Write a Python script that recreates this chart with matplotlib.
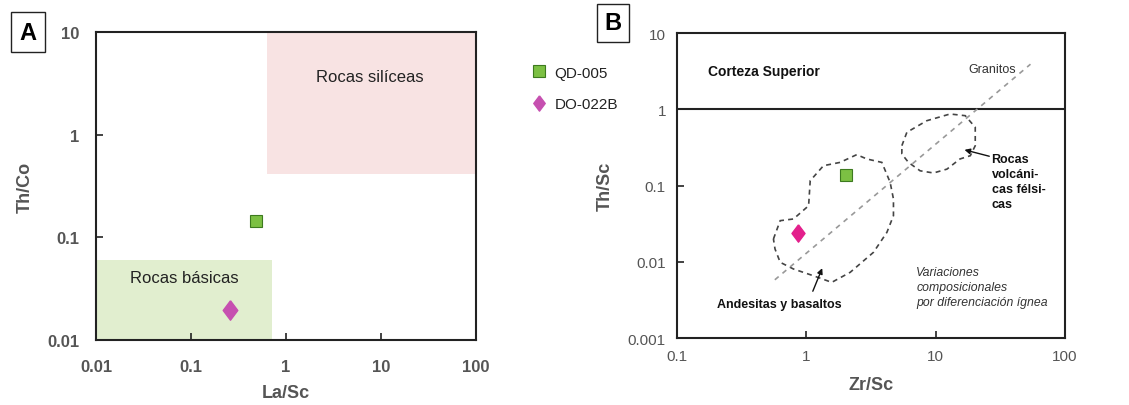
import matplotlib.pyplot as plt
from matplotlib.patches import Rectangle, Polygon

plt.rcParams['font.family'] = ['Liberation Sans', 'DejaVu Sans']

# --- Panel A data: Th/Co vs La/Sc ---
samples = ['QD-005', 'DO-022B']
a_lasc = [0.48, 0.26]
a_thco = [0.145, 0.0195]
# field boxes (x0, x1, y0, y1)
silicic_box = [0.63, 100, 0.41, 10]
basic_box = [0.01, 0.72, 0.01, 0.06]

# --- Panel B data: Th/Sc vs Zr/Sc ---
b_zrsc = [2.03, 0.86]
b_thsc = [0.138, 0.024]
granite_x = [0.57, 54]
granite_y = [0.0058, 3.9]
andesite_env_x = [0.556, 0.627, 0.794, 1.04, 1.07, 1.355, 1.82, 2.45, 2.93, 3.83,
                  4.44, 4.71, 4.71, 4.19, 3.30, 2.18, 1.57, 1.13, 0.794, 0.627, 0.572]
andesite_env_y = [0.0199, 0.0346, 0.0364, 0.0543, 0.1156, 0.182, 0.201, 0.254, 0.223, 0.201,
                  0.110, 0.0665, 0.0402, 0.0243, 0.0133, 0.00727, 0.00537, 0.00656, 0.00804,
                  0.00984, 0.0147]
felsic_env_x = [5.47, 5.98, 8.53, 12.9, 16.9, 20.2, 20.2, 18.5, 15.4, 12.2, 9.6, 7.57, 6.15, 5.47]
felsic_env_y = [0.333, 0.499, 0.708, 0.867, 0.824, 0.58, 0.333, 0.246, 0.223, 0.164, 0.146,
                0.156, 0.201, 0.259]

green = '#7cc043'
green_edge = '#3d7a1f'
purple = '#c650b0'
magenta = '#e3208c'
spine_c = '#222222'
# diamond a bit wider than matplotlib's thin diamond
diamond = [(0, 1), (0.75, 0), (0, -1), (-0.75, 0), (0, 1)]

fig = plt.figure(figsize=(11.29, 4.06), dpi=100)

# ---------------- Panel A ----------------
axA = fig.add_axes([0.0850, 0.1601, 0.3366, 0.7586])
axA.set_xscale('log')
axA.set_yscale('log')
axA.set_xlim(0.01, 100)
axA.set_ylim(0.01, 10)

axA.add_patch(Rectangle((silicic_box[0], silicic_box[2]), silicic_box[1] - silicic_box[0],
                        silicic_box[3] - silicic_box[2], facecolor='#f8e3e3', edgecolor='none', zorder=0))
axA.add_patch(Rectangle((basic_box[0], basic_box[2]), basic_box[1] - basic_box[0],
                        basic_box[3] - basic_box[2], facecolor='#e1eecf', edgecolor='none', zorder=0))
axA.text(7.6, 3.7, 'Rocas silíceas', ha='center', va='center', fontsize=12, color='#222')
axA.text(0.085, 0.041, 'Rocas básicas', ha='center', va='center', fontsize=12, color='#222')

axA.plot(a_lasc[0], a_thco[0], 's', ms=8, mfc=green, mec=green_edge, mew=0.8, ls='none', label=samples[0])
axA.plot(a_lasc[1], a_thco[1], marker=diamond, ms=14, mfc=purple, mec=purple, ls='none', label=samples[1])

axA.set_xticks([0.01, 0.1, 1, 10, 100])
axA.set_xticklabels(['0.01', '0.1', '1', '10', '100'])
axA.set_yticks([0.01, 0.1, 1, 10])
axA.set_yticklabels(['0.01', '0.1', '1', '10'])
axA.minorticks_off()
axA.tick_params(direction='in', length=5, width=1.2, color=spine_c, labelsize=12,
                labelcolor='#555')
axA.tick_params(axis='x', pad=14)
axA.tick_params(axis='y', pad=12)
for lab in axA.get_xticklabels() + axA.get_yticklabels():
    lab.set_fontweight('bold')
axA.set_xlabel('La/Sc', fontsize=13, fontweight='bold', color='#555', labelpad=7)
axA.set_ylabel('Th/Co', fontsize=13, fontweight='bold', color='#555', labelpad=10)
for s in axA.spines.values():
    s.set_color(spine_c)
    s.set_linewidth(1.5)

leg = axA.legend(loc='upper left', bbox_to_anchor=(1.11, 0.935), frameon=False, fontsize=11,
                 handletextpad=0.5, labelspacing=1.15, handlelength=1.0)
leg.legend_handles[0].set_markersize(8.5)
leg.legend_handles[1].set_markersize(11)
for t in leg.get_texts():
    t.set_color('#222')

fig.text(28 / 1129, 1 - 33 / 406, 'A', ha='center', va='center', fontsize=17, fontweight='bold',
         bbox=dict(boxstyle='square,pad=0.38', fc='white', ec='#222', lw=1.0))

# ---------------- Panel B ----------------
axB = fig.add_axes([0.5997, 0.1650, 0.3437, 0.7512])
axB.set_xscale('log')
axB.set_yscale('log')
axB.set_xlim(0.1, 100)
axB.set_ylim(0.001, 10)

axB.axhline(1, color=spine_c, lw=1.5)
axB.plot(granite_x, granite_y, ls=(0, (3, 3)), color='#999', lw=1.2)
axB.add_patch(Polygon(list(zip(andesite_env_x, andesite_env_y)), closed=True, fill=False,
                      ls=(0, (3, 2.5)), ec='#444', lw=1.2))
axB.add_patch(Polygon(list(zip(felsic_env_x, felsic_env_y)), closed=True, fill=False,
                      ls=(0, (3, 2.5)), ec='#444', lw=1.2))

axB.plot(b_zrsc[0], b_thsc[0], 's', ms=9, mfc=green, mec=green_edge, mew=0.8, ls='none')
axB.plot(b_zrsc[1], b_thsc[1], marker=diamond, ms=12.5, mfc=magenta, mec=magenta, ls='none')

axB.text(0.174, 3.2, 'Corteza Superior', ha='left', va='center', fontsize=10, fontweight='bold', color='#111')
axB.text(17.8, 3.4, 'Granitos', ha='left', va='center', fontsize=9, color='#333')
axB.text(0.204, 0.0028, 'Andesitas y basaltos', ha='left', va='center', fontsize=9,
         fontweight='bold', color='#111')
axB.annotate('', xy=(1.35, 0.0089), xytext=(1.10, 0.0038),
             arrowprops=dict(arrowstyle='-|>', color='#111', lw=1.0, mutation_scale=8))
axB.text(27, 0.27, 'Rocas\nvolcáni-\ncas félsi-\ncas', ha='left', va='top', fontsize=9,
         fontweight='bold', color='#111', linespacing=1.35)
axB.annotate('', xy=(15.9, 0.30), xytext=(27.2, 0.237),
             arrowprops=dict(arrowstyle='-|>', color='#111', lw=1.0, mutation_scale=8))
axB.text(7.05, 0.0088, 'Variaciones\ncomposicionales\npor diferenciación ígnea', ha='left', va='top',
         fontsize=8.8, style='italic', color='#333', linespacing=1.35)

axB.set_xticks([0.1, 1, 10, 100])
axB.set_xticklabels(['0.1', '1', '10', '100'])
axB.set_yticks([0.001, 0.01, 0.1, 1, 10])
axB.set_yticklabels(['0.001', '0.01', '0.1', '1', '10'])
axB.minorticks_off()
axB.tick_params(direction='in', length=5, width=1.2, color=spine_c, labelsize=11,
                labelcolor='#555', pad=8)
axB.set_xlabel('Zr/Sc', fontsize=13, fontweight='bold', color='#555', labelpad=9)
axB.set_ylabel('Th/Sc', fontsize=13, fontweight='bold', color='#555', labelpad=10)
for s in axB.spines.values():
    s.set_color(spine_c)
    s.set_linewidth(1.5)

fig.text(613 / 1129, 1 - 24 / 406, 'B', ha='center', va='center', fontsize=17, fontweight='bold',
         bbox=dict(boxstyle='square,pad=0.33', fc='white', ec='#222', lw=1.0))

fig.savefig('out.png', dpi=100)
